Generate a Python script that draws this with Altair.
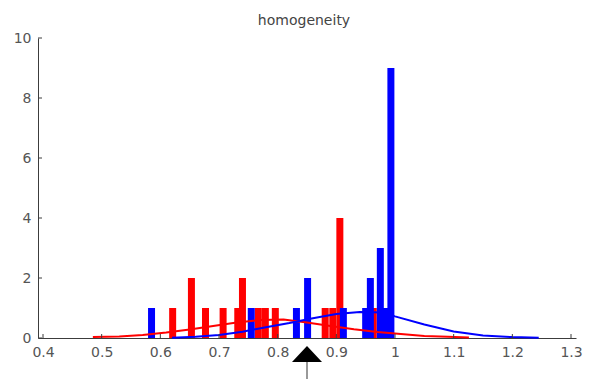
import altair as alt
import pandas as pd

# Histogram bars (bin centre, count)
red_x = [0.621, 0.653, 0.677, 0.707, 0.732, 0.740, 0.767, 0.779, 0.796, 0.881, 0.894, 0.906, 0.963]
red_h = [1, 2, 1, 1, 1, 2, 1, 1, 1, 1, 1, 4, 1]
blue_x = [0.585, 0.755, 0.832, 0.851, 0.912, 0.950, 0.958, 0.975, 0.983, 0.993]
blue_h = [1, 1, 1, 2, 1, 1, 2, 3, 1, 9]

# Fitted curves
red_cx = [0.485, 0.53, 0.57, 0.61, 0.65, 0.69, 0.73, 0.77, 0.81, 0.85, 0.89, 0.93, 0.97, 1.01, 1.05, 1.09, 1.126]
red_cy = [0.03, 0.05, 0.10, 0.18, 0.28, 0.40, 0.52, 0.60, 0.62, 0.52, 0.40, 0.29, 0.20, 0.13, 0.07, 0.04, 0.02]
blue_cx = [0.62, 0.66, 0.70, 0.74, 0.78, 0.82, 0.86, 0.90, 0.94, 0.98, 1.00, 1.05, 1.10, 1.15, 1.20, 1.245]
blue_cy = [0.01, 0.04, 0.10, 0.21, 0.36, 0.50, 0.66, 0.80, 0.87, 0.85, 0.72, 0.45, 0.22, 0.08, 0.03, 0.01]

# Marker value
marker_x = [0.85]

# Axis ticks
x_ticks = [0.4, 0.5, 0.6, 0.7, 0.8, 0.9, 1.0, 1.1, 1.2, 1.3]
y_ticks = [0, 2, 4, 6, 8, 10]
title_text = ["homogeneity"]

W, H = 538, 300
xs = alt.Scale(domain=[0.4, 1.3], nice=False, zero=False)
ys = alt.Scale(domain=[0, 10], nice=False)

red_bars_df = pd.DataFrame({"x": red_x, "h": red_h})
blue_bars_df = pd.DataFrame({"x": blue_x, "h": blue_h})
red_curve_df = pd.DataFrame({"x": red_cx, "y": red_cy})
blue_curve_df = pd.DataFrame({"x": blue_cx, "y": blue_cy})
marker_df = pd.DataFrame({"x": marker_x})
xt_df = pd.DataFrame({"t": x_ticks})
yt_df = pd.DataFrame({"t": y_ticks})
title_df = pd.DataFrame({"t": title_text})

x_axis = alt.Axis(values=x_ticks, format=".1~f", title=None, tickSize=0, labelPadding=7,
                  domainColor="#3c3c3c", labelColor="#555555", labelFont="DejaVu Sans",
                  labelFontSize=14, grid=False)
y_axis = alt.Axis(values=y_ticks, format="d", title=None, tickSize=0, labelPadding=7,
                  domainColor="#3c3c3c", labelColor="#555555", labelFont="DejaVu Sans",
                  labelFontSize=14, grid=False)

red_bars = alt.Chart(red_bars_df).mark_bar(size=7, color="#ff0000").encode(
    x=alt.X("x:Q", scale=xs, axis=x_axis),
    y=alt.Y("h:Q", scale=ys, axis=y_axis),
)
blue_bars = alt.Chart(blue_bars_df).mark_bar(size=7, color="#0000ff").encode(
    x=alt.X("x:Q", scale=xs), y=alt.Y("h:Q", scale=ys))
red_line = alt.Chart(red_curve_df).mark_line(color="#ff0000", strokeWidth=2).encode(
    x=alt.X("x:Q", scale=xs), y=alt.Y("y:Q", scale=ys))
blue_line = alt.Chart(blue_curve_df).mark_line(color="#0000ff", strokeWidth=2).encode(
    x=alt.X("x:Q", scale=xs), y=alt.Y("y:Q", scale=ys))

tri = alt.Chart(marker_df).mark_point(
    shape="M0,-0.53L1,0.53L-1,0.53Z", size=900, filled=True, color="#000000",
    opacity=1, strokeWidth=0, clip=False
).encode(x=alt.X("x:Q", scale=xs), y=alt.value(H + 16))
stem = alt.Chart(marker_df).mark_rule(color="#555555", strokeWidth=1.2).encode(
    x=alt.X("x:Q", scale=xs), y=alt.value(H + 24), y2=alt.value(H + 41))

xticks = alt.Chart(xt_df).mark_rule(color="#3c3c3c").encode(
    x=alt.X("t:Q", scale=xs), y=alt.value(H), y2=alt.value(H - 4))
yticks = alt.Chart(yt_df).mark_rule(color="#3c3c3c").encode(
    y=alt.Y("t:Q", scale=ys), x=alt.value(0), x2=alt.value(4))

title = alt.Chart(title_df).mark_text(
    font="DejaVu Sans", fontSize=14, color="#444444", baseline="alphabetic", align="center"
).encode(text="t:N", x=alt.value(W / 2 - 3), y=alt.value(-13))

chart = alt.layer(
    red_bars, blue_bars, red_line, blue_line, tri, stem, xticks, yticks, title
).properties(
    width=W, height=H,
    autosize=alt.AutoSizeParams(type="none"),
    padding={"left": 30, "top": 30, "right": 9, "bottom": 41},
).configure_view(stroke=None)

chart.save("out.html", embed_options={"renderer": "svg", "actions": False})
